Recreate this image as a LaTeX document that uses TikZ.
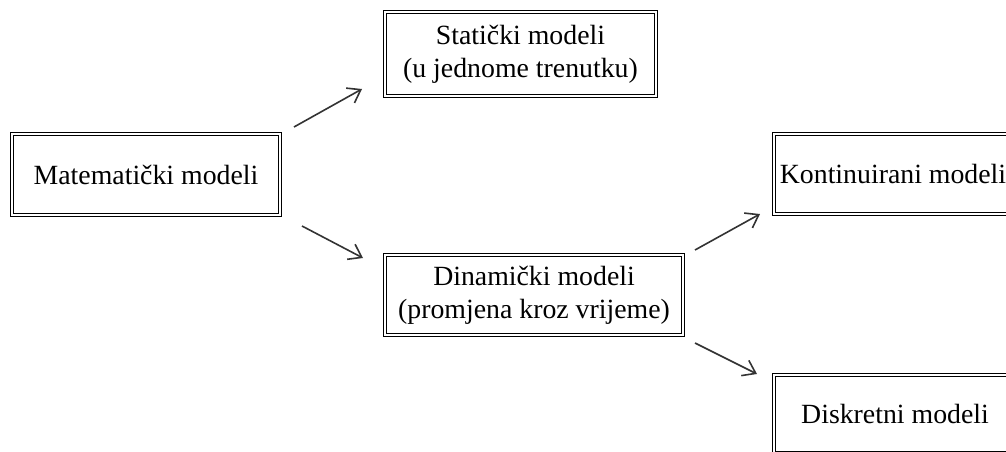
\documentclass[tikz,border=0pt]{standalone}
\usepackage{fontspec}
\setmainfont{Liberation Serif}
\usetikzlibrary{arrows.meta}
\begin{document}
\begin{tikzpicture}[x=1pt,y=-1pt,
  box/.style={draw=black, double=white, double distance=1.8pt, line width=1.4pt,
    inner sep=0pt, align=center, text=black,
    font=\fontsize{27.8}{33}\selectfont},
  arr/.style={draw=black!80, line width=1.6pt,
    -{Straight Barb[length=12pt,width=17pt,line width=1.6pt]}}]
\useasboundingbox (0,0) rectangle (1006,452);
\clip (0,0) rectangle (1006,452);
\node[box, minimum width=268pt, minimum height=81pt] (M) at (146,174.5) {Matematički modeli};
\node[box, minimum width=271pt, minimum height=84pt] (S) at (520.5,54) {Statički modeli\\(u jednome trenutku)};
\node[box, minimum width=298pt, minimum height=80pt] (D) at (534,295) {Dinamički modeli\\(promjena kroz vrijeme)};
\node[box, minimum width=238pt, minimum height=80pt] (K) at (893,174) {Kontinuirani modeli};
\node[box, minimum width=242pt, minimum height=78pt] (Di) at (895,414) {Diskretni modeli};
\coordinate (a1s) at (294,127);
\coordinate (a1e) at (362,89);
\coordinate (a2s) at (302,226);
\coordinate (a2e) at (363,258);
\coordinate (a3s) at (695,250);
\coordinate (a3e) at (760,214);
\coordinate (a4s) at (695,343);
\coordinate (a4e) at (757,374);
\draw[arr] (a1s) -- (a1e);
\draw[arr] (a2s) -- (a2e);
\draw[arr] (a3s) -- (a3e);
\draw[arr] (a4s) -- (a4e);
\end{tikzpicture}
\end{document}
